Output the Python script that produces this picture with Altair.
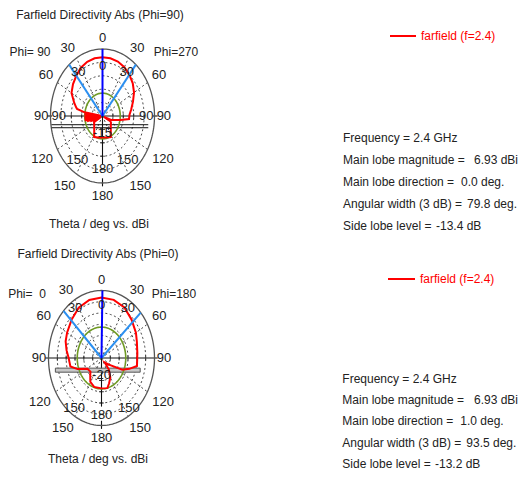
import altair as alt
import pandas as pd

# ---------------- data ----------------
TITLES = ["Farfield Directivity Abs (Phi=90)", "Farfield Directivity Abs (Phi=0)"]
PHI_LEFT = ["Phi= 90", "Phi=\u00a0\u00a00"]
PHI_RIGHT = ["Phi=270", "Phi=180"]
XLABEL = "Theta / deg vs. dBi"
LEGEND = "farfield (f=2.4)"

# cut 1 (Phi=90 left / Phi=270 right); negative theta = left half
top_theta = [-180, -165, -153, -140, -127, -120, -115, -113, -111, -109, -107, -105, -103,
             -101, -99, -97, -95, -93, -91, -89, -87, -85, -83, -81, -78, -76, -70, -60,
             -50, -40, -30, -20, -10, 0, 10, 20, 30, 40, 50, 60, 70, 80, 88, 95, 100, 105,
             110, 112, 114, 116, 118, 122, 127, 140, 153, 165, 180]
top_dbi = [-7.0, -6.7, -6.2, -8.8, -10.0, -10.3, -14.2, -10.0, -14.2, -8.8, -14.2, -7.3, -14.2,
           -6.3, -14.2, -6.3, -14.2, -6.3, -14.2, -6.3, -14.2, -6.3, -14.2, -6.3, -2.5, -2.0, -0.5, 2.2,
           3.5, 4.6, 5.8, 6.5, 6.85, 6.93, 6.85, 6.6, 6.0, 5.1, 4.0, 2.5, 0.6, -1.0, -2.0, -2.2, -6.3, -9.2,
           -10.6, -14.2, -10.5, -14.2, -10.6, -10.2, -10.0, -8.8, -6.2, -6.7, -7.0]

# cut 2 (Phi=0 left / Phi=180 right)
bot_theta = [-180, -162, -149, -140, -134, -121, -110, -102, -90, -80, -70, -60, -45, -30, -15,
             0, 15, 30, 45, 60, 70, 84, 100, 107, 114, 125, 137, 141, 150, 159, 166, 180]
bot_dbi = [-6.5, -6.5, -7.7, -10.1, -11.3, -10.7, -5.6, -2.0, -1.4, 0.1, 1.6, 2.5, 4.0, 5.8, 6.7,
           6.93, 6.75, 5.9, 4.1, 2.5, 1.3, 0.4, 0.4, -3.5, -7.1, -14.9, -17.3, -13.4, -10.0, -8.0, -6.2, -6.5]

DB_RANGE = [(-15, 10), (-20, 10)]
RING_STEP = 5
MAIN_MAG = [6.93, 6.93]
MAIN_DIR = [0.0, 1.0]
BEAMWIDTH = [79.8, 93.5]
SIDE_LOBE = [-13.4, -13.2]
DB_LABEL = ["-15", "-20"]

INFO_LABELS = ["Frequency = 2.4 GHz", "Main lobe magnitude =", "Main lobe direction =",
               "Angular width (3 dB) =", "Side lobe level ="]
INFO_VALUES = [["", "6.93 dBi", "0.0 deg.", "79.8 deg.", "-13.4 dB"],
               ["", "6.93 dBi", "1.0 deg.", "93.5 deg.", "-13.2 dB"]]

OUTER_TICKS = ["0", "30", "60", "90", "120", "150", "180"]
INNER_TICKS = [["0", "30", "90", "150", "180"], ["0", "30", "150", "180"]]
SPOKES = [30, 60, 120, 150]

# ---------------- layout / style ----------------
W = 510
SPACING = 6
ROWS = [
    dict(h=232, cx=94.5, cy=108, rx=52, ry=67, title=(92, 7), phil=(22, 44), phir=(168, 44),
         xlab=(91, 216), leg=(382, 408, 28, 413), info_x=335, info_y=130, line_h=22,
         val_x=[0, 466, 453, 459, 428], hseg=[(0, 0.74), (0.97, 1.06)], overlay="lines"),
    dict(h=225, cx=93.5, cy=112, rx=53, ry=67.5, title=(90, 8), phil=(19, 48), phir=(166, 48),
         xlab=(90, 213), leg=(380, 407, 33, 412), info_x=334.3, info_y=133, line_h=21.2,
         val_x=[0, 466, 452.3, 458.3, 427], hseg=[(0, 1.06)], overlay="bar"),
]
OUTER_POS = {"0": (0, 1.16), "30": (33.5, 1.21), "60": (60.5, 1.25), "90": (90, 1.18),
             "120": (119, 1.33), "150": (145, 1.27), "180": (180, 1.19)}
INNER_POS = [{"0": (0, 0.75), "30": (35, 0.81), "90": (90, 0.84), "150": (144, 0.82), "180": (180, 0.79)},
             {"0": (0, 0.79), "30": (34, 0.89), "150": (145, 0.9), "180": (180, 0.84)}]
OVERLAY_LINES = dict(x0=-0.98, x1=0.88, ys=[-0.13, -0.175])
OVERLAY_BAR = dict(x0=-0.87, x1=0.73, y0=-0.15, y1=-0.21)

FONT = "Liberation Sans, Arial, sans-serif"
FS = 12
RED = "#ff0000"
BLUE = "#0000ff"
LBLUE = "#2b8ff0"
GREEN = "#6f9a24"
TXT = "#222222"


def make_row(k):
    L = ROWS[k]
    lo, hi = DB_RANGE[k]
    span = hi - lo
    xs = alt.Scale(domain=[-L["cx"] / L["rx"], (W - L["cx"]) / L["rx"]], nice=False, zero=False)
    ys = alt.Scale(domain=[-(L["h"] - L["cy"]) / L["ry"], L["cy"] / L["ry"]], nice=False, zero=False)
    X = alt.X("px:Q", scale=xs, axis=None)
    Y = alt.Y("py:Q", scale=ys, axis=None)

    def pol(ch, rexpr=f"max(0, (datum.db - ({lo})) / {span})"):
        return ch.transform_calculate(r=rexpr).transform_calculate(
            px="datum.r * sin(datum.theta * PI / 180)",
            py="datum.r * cos(datum.theta * PI / 180)")

    layers = []
    # dashed rings
    levels = list(range(lo + RING_STEP, hi, RING_STEP))
    ring_rows = [dict(ring=lv, db=lv, theta=t) for lv in levels for t in range(-180, 181, 3)]
    layers.append(pol(alt.Chart(pd.DataFrame(ring_rows)).mark_line(
        color="#333333", strokeWidth=0.9, strokeDash=[2, 2.5])).encode(
        x=X, y=Y, detail="ring:N", order="theta:Q"))
    # dashed spokes
    sp_rows = [dict(seg=s * sg, theta=s * sg, rn=rn) for s in SPOKES for sg in (-1, 1) for rn in (0, 1)]
    layers.append(pol(alt.Chart(pd.DataFrame(sp_rows)).mark_line(
        color="#333333", strokeWidth=0.9, strokeDash=[2, 2.5]), "datum.rn").encode(
        x=X, y=Y, detail="seg:N", order="rn:Q"))
    # solid axes
    ax_rows = []
    for i, (r0, r1) in enumerate(L["hseg"]):
        for sg in (-1, 1):
            ax_rows += [dict(seg=f"h{i}{sg}", theta=90 * sg, rn=r0), dict(seg=f"h{i}{sg}", theta=90 * sg, rn=r1)]
    for i, (r0, r1) in enumerate([(0, 0.72), (0.93, 1.05)]):
        ax_rows += [dict(seg=f"v{i}", theta=180, rn=r0), dict(seg=f"v{i}", theta=180, rn=r1)]
    layers.append(pol(alt.Chart(pd.DataFrame(ax_rows)).mark_line(
        color="#111111", strokeWidth=1.1), "datum.rn").encode(x=X, y=Y, detail="seg:N", order="rn:Q"))
    # ticks on axes
    tk = pd.DataFrame([dict(db=lv, theta=t) for lv in levels for t in (-90, 90)])
    layers.append(pol(alt.Chart(tk).mark_tick(orient="vertical", size=5, thickness=1, color="#111111")).encode(x=X, y=Y))
    tk2 = pd.DataFrame([dict(db=lv, theta=180) for lv in levels])
    layers.append(pol(alt.Chart(tk2).mark_tick(orient="horizontal", size=5, thickness=1, color="#111111")).encode(x=X, y=Y))
    # outer ring
    outer = pd.DataFrame([dict(db=hi, theta=t) for t in range(-180, 181, 2)])
    layers.append(pol(alt.Chart(outer).mark_line(color="#555555", strokeWidth=1.3)).encode(x=X, y=Y, order="theta:Q"))
    # overlay artifacts
    if L["overlay"] == "lines":
        ov = pd.DataFrame([dict(x0=OVERLAY_LINES["x0"], x1=OVERLAY_LINES["x1"], y=y) for y in OVERLAY_LINES["ys"]])
        layers.append(alt.Chart(ov).mark_rule(color="#111111", strokeWidth=1).encode(
            x=alt.X("x0:Q", scale=xs, axis=None), x2="x1:Q", y=alt.Y("y:Q", scale=ys, axis=None)))
    else:
        ov = pd.DataFrame([OVERLAY_BAR])
        layers.append(alt.Chart(ov).mark_rect(fill="#c8c8c8", stroke="#555555", strokeWidth=1).encode(
            x=alt.X("x0:Q", scale=xs, axis=None), x2="x1:Q",
            y=alt.Y("y0:Q", scale=ys, axis=None), y2="y1:Q"))
    # side lobe level circle
    sll = MAIN_MAG[k] + SIDE_LOBE[k]
    gc = pd.DataFrame([dict(db=sll, theta=t) for t in range(-180, 181, 2)])
    layers.append(pol(alt.Chart(gc).mark_line(color=GREEN, strokeWidth=1.6)).encode(x=X, y=Y, order="theta:Q"))
    # farfield curve
    th, db = (top_theta, top_dbi) if k == 0 else (bot_theta, bot_dbi)
    ff = pd.DataFrame(dict(theta=th, db=db, i=range(len(th))))
    layers.append(pol(alt.Chart(ff).mark_line(color=RED, strokeWidth=2)).encode(x=X, y=Y, order="i:Q"))
    # main lobe direction & 3 dB width
    half = BEAMWIDTH[k] / 2
    bl = pd.DataFrame([dict(seg=s, theta=t, rn=rn) for s, t in
                       (("a", MAIN_DIR[k] - half), ("b", MAIN_DIR[k] + half)) for rn in (0, 1)])
    layers.append(pol(alt.Chart(bl).mark_line(color=LBLUE, strokeWidth=2), "datum.rn").encode(
        x=X, y=Y, detail="seg:N", order="rn:Q"))
    bd = pd.DataFrame([dict(theta=MAIN_DIR[k], rn=rn) for rn in (0, 1)])
    layers.append(pol(alt.Chart(bd).mark_line(color=BLUE, strokeWidth=2), "datum.rn").encode(
        x=X, y=Y, order="rn:Q"))
    # angle labels
    lab = []
    for t in OUTER_TICKS:
        a, rn = OUTER_POS[t]
        sides = (1,) if a in (0, 180) else (-1, 1)
        lab += [dict(t=t, theta=a * s, rn=rn) for s in sides]
    for t in INNER_TICKS[k]:
        a, rn = INNER_POS[k][t]
        sides = (1,) if a in (0, 180) else (-1, 1)
        lab += [dict(t=t, theta=a * s, rn=rn) for s in sides]
    lab.append(dict(t=DB_LABEL[k], theta=180, rn=0.25))
    layers.append(pol(alt.Chart(pd.DataFrame(lab)).mark_text(
        font=FONT, fontSize=FS + 1, color=TXT), "datum.rn").encode(x=X, y=Y, text="t:N"))

    # plain text annotations
    def txt(s, x, y, align="center", color=TXT):
        return alt.Chart(pd.DataFrame(dict(t=[s]))).mark_text(
            font=FONT, fontSize=FS, color=color, align=align, baseline="middle", clip=True).encode(
            x=alt.value(x), y=alt.value(y), text="t:N")

    layers.append(txt(TITLES[k], *L["title"]))
    layers.append(txt(PHI_LEFT[k], *L["phil"]))
    layers.append(txt(PHI_RIGHT[k], *L["phir"]))
    layers.append(txt(XLABEL, *L["xlab"]))
    lx0, lx1, ly, ltx = L["leg"]
    layers.append(alt.Chart(pd.DataFrame(dict(t=[LEGEND]))).mark_rule(color=RED, strokeWidth=2).encode(
        x=alt.value(lx0), x2=alt.value(lx1), y=alt.value(ly)))
    layers.append(txt(LEGEND, ltx, ly, "left", RED))
    for i, lbl in enumerate(INFO_LABELS):
        yy = L["info_y"] + i * L["line_h"]
        layers.append(txt(lbl, L["info_x"], yy, "left"))
        v = INFO_VALUES[k][i]
        if v:
            layers.append(txt(v, L["val_x"][i], yy, "left"))

    return alt.layer(*layers).properties(width=W, height=L["h"])


chart = alt.vconcat(make_row(0), make_row(1), spacing=SPACING).properties(padding=0).configure_view(stroke=None)
chart.save("out.html", embed_options={"renderer": "svg", "actions": False})
